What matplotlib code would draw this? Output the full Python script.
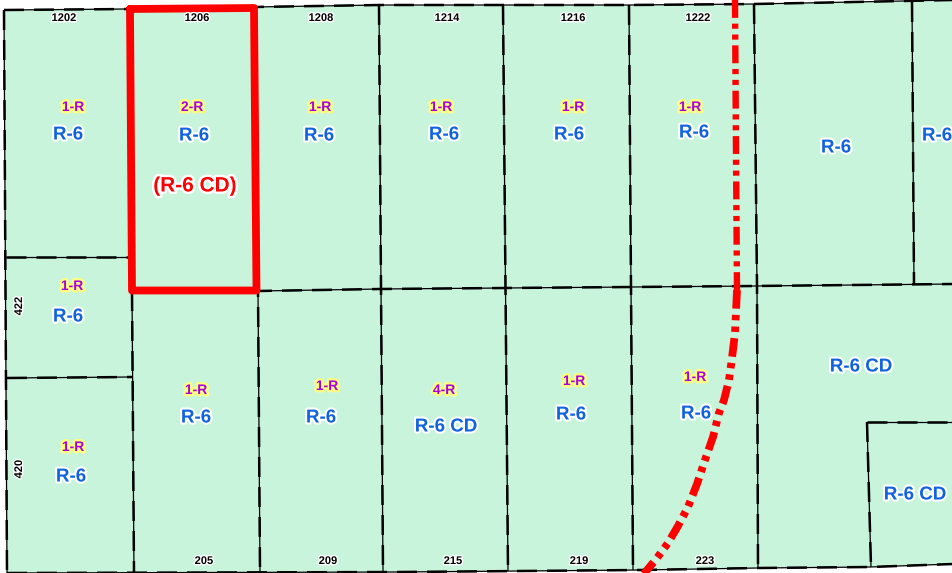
import matplotlib
matplotlib.use('Agg')
import matplotlib.pyplot as plt
import matplotlib.patheffects as pe

plt.rcParams['font.family'] = ['Liberation Sans', 'DejaVu Sans']

# parcel boundaries, in image pixels
outline = [(4, 10), (130, 8), (254, 7), (380, 5), (505, 5), (630, 5), (754, 4), (953, 0),
           (953, 564), (870, 567), (758, 568), (640, 570), (400, 572), (7, 573)]
parcel_lines = [
    [(4, 10), (130, 9), (254, 7), (380, 5), (505, 5), (630, 5), (754, 4), (953, 0)],
    [(7, 573), (400, 572), (640, 570), (758, 568), (870, 567), (953, 564)],
    [(132, 291), (258, 291), (380, 289), (505, 288), (632, 287), (755, 286), (953, 284)],
    [(4, 10), (7, 573)],
    [(132, 291), (134, 573)],
    [(255, 7), (258, 290), (260, 572)],
    [(379, 5), (383, 571)],
    [(503, 5), (508, 571)],
    [(629, 5), (633, 570)],
    [(754, 4), (757, 286), (758, 568)],
    [(912, 2), (914, 284)],
    [(6, 257), (130, 257)],
    [(7, 378), (132, 377)],
    [(867, 422), (953, 422)],
    [(867, 422), (871, 567)],
]
subject_parcel = [(130, 9), (254, 8), (256.5, 290.5), (132, 290.5), (130, 9)]
curve_upper = [(735, 0), (736, 150), (737, 290)]
curve_lower = [(737, 290), (735, 333), (732, 358), (729, 380), (724, 400), (719, 413), (713, 437),
               (705, 460), (697, 484), (688, 507), (678, 526), (668, 543), (657, 558), (643, 575)]

zoning = [('R-6', 68, 135), ('R-6', 194, 136), ('R-6', 319, 136), ('R-6', 444, 135), ('R-6', 569, 135),
          ('R-6', 694, 133), ('R-6', 836, 148), ('R-6', 937, 136), ('R-6', 68, 317), ('R-6', 71, 477),
          ('R-6', 196, 418), ('R-6', 321, 418), ('R-6 CD', 446, 427), ('R-6', 571, 415), ('R-6', 696, 414),
          ('R-6 CD', 861, 367), ('R-6 CD', 915, 495)]
density = [('1-R', 73, 107), ('2-R', 192, 107), ('1-R', 320, 107), ('1-R', 441, 107), ('1-R', 573, 107),
           ('1-R', 690, 107), ('1-R', 72, 286), ('1-R', 73, 447), ('1-R', 196, 390), ('1-R', 327, 386),
           ('4-R', 444, 390), ('1-R', 574, 381), ('1-R', 695, 377)]
addresses = [('1202', 64, 18), ('1206', 197, 18), ('1208', 321, 18), ('1214', 447, 18), ('1216', 573, 18),
             ('1222', 698, 18), ('205', 204, 561), ('209', 328, 561), ('215', 453, 561), ('219', 579, 561),
             ('223', 705, 561)]
side_addresses = [('422', 19, 306), ('420', 19, 469)]

fig = plt.figure(figsize=(9.53, 5.73), dpi=100)
ax = fig.add_axes([0, 0, 1, 1])
ax.set_xlim(0, 953)
ax.set_ylim(573, 0)
ax.axis('off')

ax.fill([p[0] for p in outline], [p[1] for p in outline], color='#C8F4DC', lw=0)

# thin solid line under a thicker dashed one gives the map's parcel edge
for line in parcel_lines:
    xs = [p[0] for p in line]
    ys = [p[1] for p in line]
    ax.plot(xs, ys, color='black', lw=0.9, solid_capstyle='butt')
    ax.plot(xs, ys, color='black', lw=1.8, linestyle=(0, (8, 4)), dash_capstyle='butt')

# the red curve gets heavier below the middle parcel line
xs = [p[0] for p in curve_upper]
ys = [p[1] for p in curve_upper]
ax.plot(xs, ys, color='#FF0000', lw=4.6, linestyle=(0, (2.8, 0.9, 0.8, 0.9, 0.8, 0.9)), dash_capstyle='butt')
xs = [p[0] for p in curve_lower]
ys = [p[1] for p in curve_lower]
ax.plot(xs, ys, color='#FF0000', lw=5.6, linestyle=(0, (2.4, 0.8, 0.7, 0.8, 0.7, 0.8)), dash_capstyle='butt')

xs = [p[0] for p in subject_parcel]
ys = [p[1] for p in subject_parcel]
ax.plot(xs, ys, color='#FF0000', lw=5.6, solid_joinstyle='round', solid_capstyle='round')

for label, x, y in zoning:
    ax.text(x, y, label, color='#0F62E0', fontsize=13.5, fontweight='bold', ha='center', va='center',
            path_effects=[pe.withStroke(linewidth=3, foreground='white')])
for label, x, y in density:
    ax.text(x, y, label, color='#A800E0', fontsize=10, fontweight='bold', ha='center', va='center',
            path_effects=[pe.withStroke(linewidth=3.5, foreground='#FFFF80')])
for label, x, y in addresses:
    ax.text(x, y, label, color='black', fontsize=8, fontweight='bold', ha='center', va='center',
            path_effects=[pe.withStroke(linewidth=2, foreground='white')])
for label, x, y in side_addresses:
    ax.text(x, y, label, color='black', fontsize=8, fontweight='bold', rotation=90, ha='center', va='center',
            path_effects=[pe.withStroke(linewidth=2, foreground='white')])

ax.text(195, 186, '(R-6 CD)', color='#FF0000', fontsize=15, fontweight='bold', ha='center', va='center',
        path_effects=[pe.withStroke(linewidth=3.5, foreground='white')])

fig.savefig('out.png', dpi=100)
